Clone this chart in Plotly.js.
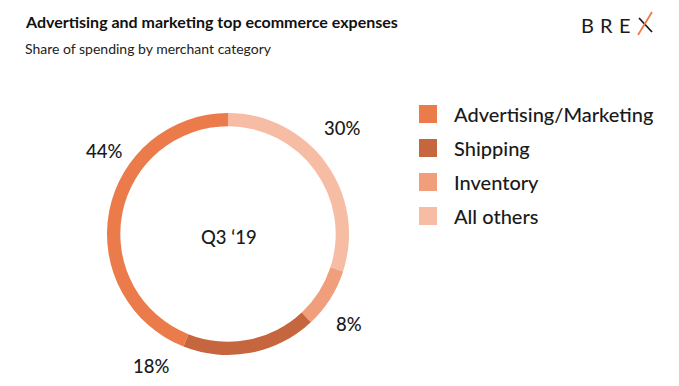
<!DOCTYPE html>
<html>
<head>
<meta charset="utf-8">
<script src="https://cdn.plot.ly/plotly-3.0.1.min.js"></script>
<style>html,body{margin:0;padding:0;background:#fff;}#chart{width:679px;height:386px;}</style>
</head>
<body>
<div id="chart"></div>
<script>
var categories = ["Advertising/Marketing", "Shipping", "Inventory", "All others"];
var shares = [44, 18, 8, 30];
var colors = ["#EC7B4B", "#C6663F", "#F09E7C", "#F6BDA4"];
var centerLabel = "Q3 \u201819";
var titleText = "Advertising and marketing top ecommerce expenses";
var subtitleText = "Share of spending by merchant category";

var W = 679, H = 386;
function px(x){return x / W;}
function py(y){return 1 - y / H;}

var FONT = "Lato, Open Sans, sans-serif";
var cx = 228, cy = 234, R = 121;

// ring drawn clockwise from 12 o'clock: All others, Inventory, Shipping, Advertising
var ringOrder = [3, 2, 1, 0];
var trace = {
  type: "pie",
  values: ringOrder.map(function(i){return shares[i];}),
  labels: ringOrder.map(function(i){return categories[i];}),
  sort: false,
  direction: "clockwise",
  rotation: 0,
  hole: 0.89,
  textinfo: "none",
  hoverinfo: "label+percent",
  marker: {colors: ringOrder.map(function(i){return colors[i];}), line: {width: 0}},
  domain: {x: [px(cx - R), px(cx + R)], y: [py(cy + R), py(cy - R)]},
  showlegend: false
};

var annotations = [];
var shapes = [];
var labelPos = [[104, 151], [151, 366], [349, 324], [342, 128]];
for (var i = 0; i < shares.length; i++) {
  annotations.push({
    xref: "paper", yref: "paper", x: px(labelPos[i][0]), y: py(labelPos[i][1]),
    text: shares[i] + "%", showarrow: false, xanchor: "center", yanchor: "middle",
    font: {family: FONT, size: 18.5, color: "#1a1a1a", weight: 500}
  });
}
annotations.push({xref: "paper", yref: "paper", x: px(229), y: py(237), text: centerLabel,
  showarrow: false, xanchor: "center", yanchor: "middle", font: {family: FONT, size: 18.5, color: "#1a1a1a", weight: 500}});
annotations.push({xref: "paper", yref: "paper", x: px(23), y: py(22), text: "<b>" + titleText + "</b>",
  showarrow: false, xanchor: "left", yanchor: "middle", font: {family: FONT, size: 16, color: "#111"}});
annotations.push({xref: "paper", yref: "paper", x: px(23), y: py(48), text: subtitleText,
  showarrow: false, xanchor: "left", yanchor: "middle", font: {family: FONT, size: 14, color: "#222"}});
for (var j = 0; j < categories.length; j++) {
  var yy = 114 + j * 34;
  shapes.push({type: "rect", xref: "paper", yref: "paper", x0: px(419), x1: px(437), y0: py(yy - 9), y1: py(yy + 9),
    fillcolor: colors[j], line: {width: 0}});
  annotations.push({xref: "paper", yref: "paper", x: px(452), y: py(yy), text: categories[j],
    showarrow: false, xanchor: "left", yanchor: "middle", font: {family: FONT, size: 20, color: "#1a1a1a", weight: 500}});
}
var logo = ["B", "R", "E"];
var logoX = [587, 606, 625];
for (var k = 0; k < logo.length; k++) {
  annotations.push({xref: "paper", yref: "paper", x: px(logoX[k]), y: py(25), text: logo[k],
    showarrow: false, xanchor: "center", yanchor: "middle", font: {family: FONT, size: 20, color: "#1a1a1a", weight: 400}});
}
shapes.push({type: "line", xref: "paper", yref: "paper", x0: px(639), y0: py(18), x1: px(652), y1: py(32), line: {color: "#1a1a1a", width: 1.8}});
shapes.push({type: "line", xref: "paper", yref: "paper", x0: px(638), y0: py(35), x1: px(652), y1: py(12), line: {color: "#EC7B4B", width: 1.8}});

var layout = {
  width: W, height: H,
  margin: {l: 0, r: 0, t: 0, b: 0},
  paper_bgcolor: "#fff", plot_bgcolor: "#fff",
  annotations: annotations, shapes: shapes,
  showlegend: false
};
Plotly.newPlot("chart", [trace], layout, {displayModeBar: false, staticPlot: true});
</script>
</body>
</html>
